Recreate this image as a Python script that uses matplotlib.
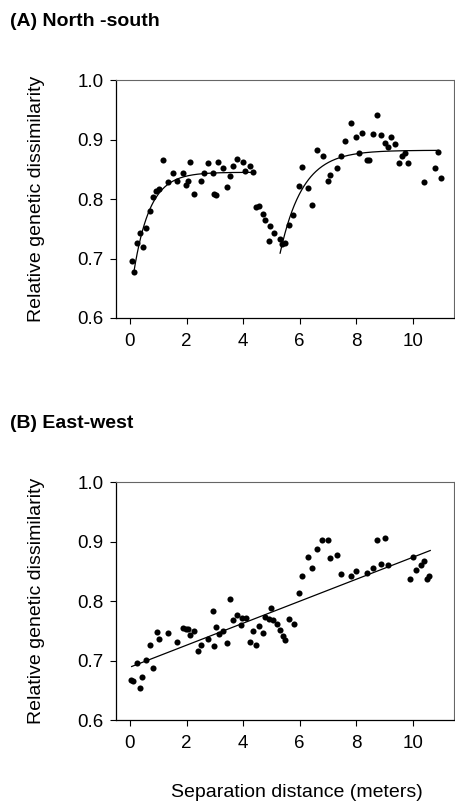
"""
relative genetic dissimilarity vs separation distance,
north-south and east-west transects
"""

import numpy as np
import matplotlib
matplotlib.use('Agg')
import matplotlib.pyplot as plt

plt.rcParams['font.family'] = ['Liberation Sans', 'DejaVu Sans']

# (A) north-south transect
ns_x = [0.06, 0.13, 0.26, 0.36, 0.45, 0.57, 0.71, 0.81, 0.93, 1.02,
        1.16, 1.36, 1.52, 1.66, 1.87, 1.99, 2.04, 2.11, 2.28, 2.53,
        2.63, 2.77, 2.93, 2.97, 3.06, 3.13, 3.29, 3.44, 3.53, 3.63,
        3.78, 3.99, 4.08, 4.25, 4.34, 4.45, 4.58, 4.70, 4.79, 4.90,
        4.97, 5.09, 5.29, 5.38, 5.49, 5.61, 5.78, 5.98, 6.09, 6.30,
        6.45, 6.60, 6.81, 7.00, 7.09, 7.32, 7.46, 7.61, 7.82, 8.01,
        8.10, 8.21, 8.37, 8.47, 8.58, 8.72, 8.87, 9.02, 9.11, 9.24,
        9.37, 9.50, 9.63, 9.74, 9.83, 10.39, 10.79, 10.90, 11.00]
ns_y = [0.695, 0.677, 0.726, 0.743, 0.719, 0.751, 0.780, 0.803, 0.813, 0.817,
        0.865, 0.829, 0.844, 0.830, 0.844, 0.823, 0.830, 0.862, 0.809, 0.830,
        0.844, 0.861, 0.843, 0.808, 0.807, 0.863, 0.852, 0.821, 0.839, 0.856,
        0.868, 0.862, 0.847, 0.856, 0.846, 0.786, 0.788, 0.775, 0.765, 0.729,
        0.754, 0.743, 0.732, 0.725, 0.726, 0.757, 0.774, 0.822, 0.854, 0.818,
        0.790, 0.883, 0.872, 0.831, 0.840, 0.852, 0.872, 0.897, 0.928, 0.904,
        0.877, 0.911, 0.866, 0.866, 0.910, 0.942, 0.907, 0.895, 0.887, 0.904,
        0.893, 0.860, 0.872, 0.878, 0.860, 0.828, 0.852, 0.879, 0.835]

# (B) east-west transect
ew_x = [0.04, 0.12, 0.25, 0.36, 0.44, 0.56, 0.71, 0.81, 0.95, 1.03,
        1.36, 1.66, 1.87, 1.97, 2.04, 2.11, 2.28, 2.41, 2.53, 2.77,
        2.93, 2.98, 3.06, 3.14, 3.29, 3.43, 3.53, 3.63, 3.77, 3.93,
        3.96, 4.09, 4.23, 4.35, 4.46, 4.58, 4.70, 4.79, 4.90, 4.98,
        5.07, 5.19, 5.30, 5.40, 5.47, 5.61, 5.79, 5.99, 6.09, 6.30,
        6.45, 6.60, 6.80, 7.00, 7.09, 7.32, 7.46, 7.81, 8.01, 8.37,
        8.58, 8.72, 8.88, 9.02, 9.11, 9.92, 10.02, 10.10, 10.28, 10.39,
        10.49, 10.59]
ew_y = [0.668, 0.666, 0.696, 0.654, 0.673, 0.701, 0.726, 0.688, 0.748, 0.737,
        0.747, 0.731, 0.755, 0.754, 0.753, 0.743, 0.750, 0.717, 0.726, 0.737,
        0.783, 0.724, 0.757, 0.745, 0.749, 0.730, 0.804, 0.768, 0.777, 0.760,
        0.772, 0.772, 0.731, 0.750, 0.726, 0.758, 0.747, 0.774, 0.770, 0.788,
        0.768, 0.762, 0.752, 0.742, 0.735, 0.770, 0.761, 0.814, 0.842, 0.874,
        0.855, 0.887, 0.903, 0.902, 0.873, 0.878, 0.845, 0.842, 0.850, 0.847,
        0.855, 0.902, 0.862, 0.907, 0.861, 0.838, 0.875, 0.853, 0.861, 0.868,
        0.838, 0.843]

# fitted models: (start x, end x, start y, plateau, rate)
ns_fit1 = (0.13, 4.34, 0.675, 0.845, 0.57)
ns_fit2 = (5.31, 10.90, 0.709, 0.882, 0.80)
# linear fit for east-west: (start x, end x, intercept, slope)
ew_fit = (0.06, 10.62, 0.689, 0.01847)


def exp_rise(fit):
    x0, x1, y0, top, k = fit
    xs = np.linspace(x0, x1, 200)
    return xs, top - (top - y0) * np.exp(-(xs - x0) / k)


def style_axes(ax):
    ax.set_xlim(-0.5, 11.45)
    ax.set_ylim(0.6, 1.0)
    ax.set_xticks([0, 2, 4, 6, 8, 10])
    ax.set_yticks([0.6, 0.7, 0.8, 0.9, 1.0])
    ax.set_yticklabels(['0.6', '0.7', '0.8', '0.9', '1.0'])
    ax.tick_params(direction='out', length=4, width=0.8, labelsize=13.5,
                   top=False, right=False)
    ax.tick_params(axis='x', pad=7)
    ax.tick_params(axis='y', pad=5)
    for s in ['left', 'bottom']:
        ax.spines[s].set_linewidth(0.9)
        ax.spines[s].set_color('black')
    for s in ['top', 'right']:
        ax.spines[s].set_linewidth(0.8)
        ax.spines[s].set_color('#666666')
    ax.set_ylabel('Relative genetic dissimilarity', fontsize=14, labelpad=23)


fig = plt.figure(figsize=(4.56, 8.01), dpi=100)
axA = fig.add_axes([0.254, 0.603, 0.741, 0.297])
axB = fig.add_axes([0.254, 0.101, 0.741, 0.297])

# panel A
axA.plot(ns_x, ns_y, 'o', color='black', markersize=4.4, markeredgewidth=0)
for f in [ns_fit1, ns_fit2]:
    xs, ys = exp_rise(f)
    axA.plot(xs, ys, color='black', lw=0.9)
style_axes(axA)

# panel B
axB.plot(ew_x, ew_y, 'o', color='black', markersize=4.4, markeredgewidth=0)
xl = np.array([ew_fit[0], ew_fit[1]])
axB.plot(xl, ew_fit[2] + ew_fit[3] * xl, color='black', lw=0.9)
style_axes(axB)

fig.text(10 / 456, 1 - 21 / 801, '(A) North -south', fontsize=14,
         fontweight='bold', va='center', ha='left')
fig.text(10 / 456, 1 - 424 / 801, '(B) East-west', fontsize=14,
         fontweight='bold', va='center', ha='left')
fig.text(297 / 456, 4 / 801, 'Separation distance (meters)', fontsize=14,
         ha='center', va='baseline')

fig.savefig('out.png', dpi=100)
